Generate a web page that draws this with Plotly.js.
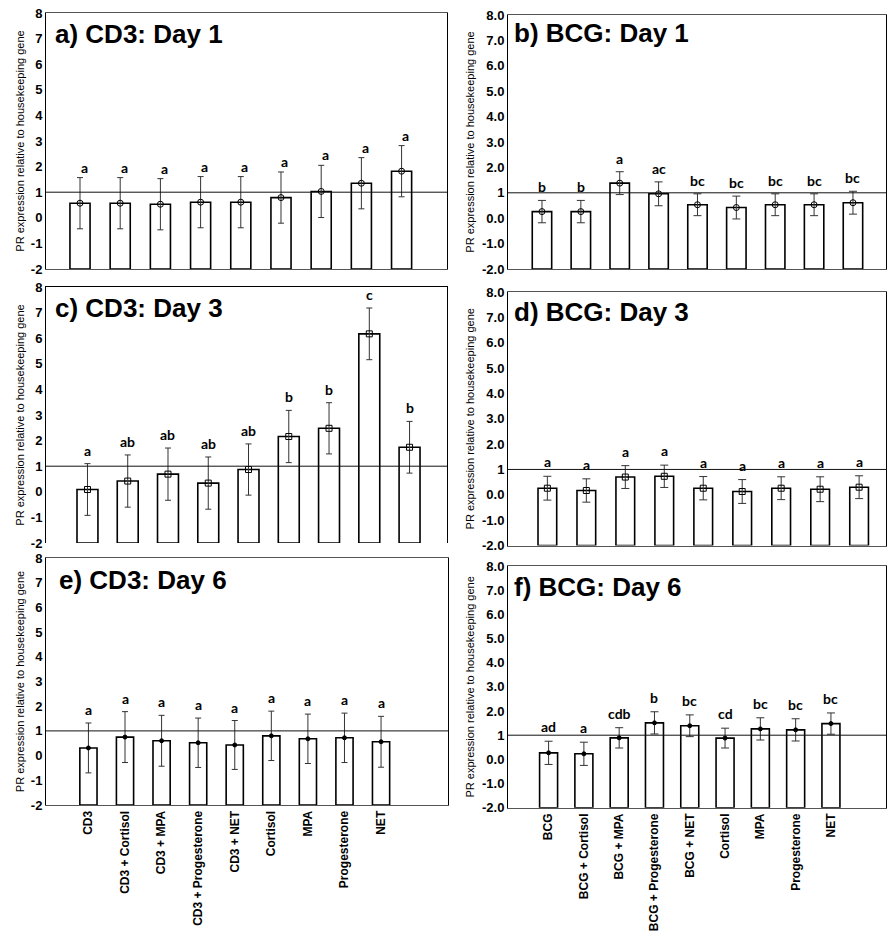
<!DOCTYPE html>
<html>
<head>
<meta charset="utf-8">
<script src="https://cdn.plot.ly/plotly-3.0.1.min.js"></script>
<style>html,body{margin:0;padding:0;background:#fff;}#chart{width:887px;height:941px;}</style>
</head>
<body>
<div id="chart"></div>
<script>
// ---- data ----
const catsCD3 = ["CD3", "CD3 + Cortisol", "CD3 + MPA", "CD3 + Progesterone", "CD3 + NET", "Cortisol", "MPA", "Progesterone", "NET"];
const catsBCG = ["BCG", "BCG + Cortisol", "BCG + MPA", "BCG + Progesterone", "BCG + NET", "Cortisol", "MPA", "Progesterone", "NET"];

const cd3Day1    = [0.57, 0.57, 0.53, 0.61, 0.61, 0.79, 1.03, 1.35, 1.82];
const cd3Day1Err = [1.0, 1.0, 1.0, 1.0, 1.0, 1.0, 1.02, 1.0, 1.0];
const cd3Day1Sig = ["a", "a", "a", "a", "a", "a", "a", "a", "a"];

const bcgDay1    = [0.26, 0.26, 1.38, 0.96, 0.53, 0.42, 0.53, 0.53, 0.61];
const bcgDay1Err = [0.44, 0.44, 0.45, 0.47, 0.43, 0.45, 0.43, 0.43, 0.45];
const bcgDay1Sig = ["b", "b", "a", "ac", "bc", "bc", "bc", "bc", "bc"];

const cd3Day3    = [0.09, 0.42, 0.69, 0.34, 0.87, 2.16, 2.48, 6.17, 1.74];
const cd3Day3Err = [1.01, 1.02, 1.02, 1.02, 1.0, 1.02, 1.0, 1.01, 1.01];
const cd3Day3Sig = ["a", "ab", "ab", "ab", "ab", "b", "b", "c", "b"];

const bcgDay3    = [0.26, 0.17, 0.70, 0.73, 0.26, 0.13, 0.26, 0.22, 0.30];
const bcgDay3Err = [0.47, 0.46, 0.45, 0.44, 0.46, 0.47, 0.45, 0.49, 0.45];
const bcgDay3Sig = ["a", "a", "a", "a", "a", "a", "a", "a", "a"];

const cd3Day6    = [0.31, 0.75, 0.60, 0.52, 0.43, 0.80, 0.68, 0.72, 0.56];
const cd3Day6Err = [1.01, 1.03, 1.03, 1.0, 0.99, 1.0, 1.0, 1.0, 1.03];
const cd3Day6Sig = ["a", "a", "a", "a", "a", "a", "a", "a", "a"];

const bcgDay6    = [0.27, 0.23, 0.89, 1.51, 1.39, 0.88, 1.26, 1.22, 1.48];
const bcgDay6Err = [0.48, 0.48, 0.42, 0.46, 0.45, 0.41, 0.46, 0.46, 0.44];
const bcgDay6Sig = ["ad", "a", "cdb", "b", "bc", "cd", "bc", "bc", "bc"];

const panelTitles = ["a) CD3: Day 1", "b) BCG: Day 1", "c) CD3: Day 3", "d) BCG: Day 3", "e) CD3: Day 6", "f) BCG: Day 6"];
const yTitle = "PR expression relative to housekeeping gene";
const yTickVals = [-2, -1, 0, 1, 2, 3, 4, 5, 6, 7, 8];
const yTickTextCD3 = ["-2", "-1", "0", "1", "2", "3", "4", "5", "6", "7", "8"];
const yTickTextBCG = ["-2.0", "-1.0", "0.0", "1", "2.0", "3.0", "4.0", "5.0", "6.0", "7.0", "8.0"];

// ---- styling / layout ----
const W = 887, H = 941;
const SANS = "Liberation Sans, Arial, sans-serif";
const LETTER = "Lato, Open Sans, sans-serif";

const panels = [
  {vals: cd3Day1, err: cd3Day1Err, sig: cd3Day1Sig, cats: catsCD3, ticks: yTickTextCD3, px: [46, 447], py: [13, 269], xr: [-0.846, 9.13], w: 0.5, sym: "circle-open", ms: 6, cap: 3, tx: 0.017, ty: 0.918, showX: false, bottomLine: true, sigShift: 0, sigX: 4, so: 3},
  {vals: bcgDay1, err: bcgDay1Err, sig: bcgDay1Sig, cats: catsBCG, ticks: yTickTextBCG, px: [508, 886], py: [15, 269], xr: [-0.874, 8.85], w: 0.5, sym: "circle-open", ms: 6, cap: 4, tx: 0.01, ty: 0.928, showX: false, bottomLine: true, sigShift: 3, sigX: 0, so: 5},
  {vals: cd3Day3, err: cd3Day3Err, sig: cd3Day3Sig, cats: catsCD3, ticks: yTickTextCD3, px: [46, 447], py: [287, 543], xr: [-1.03, 8.93], w: 0.52, sym: "square-open", ms: 6, cap: 3, tx: 0.018, ty: 0.917, showX: false, bottomLine: false, sigShift: 3, sigX: 0, so: 3},
  {vals: bcgDay3, err: bcgDay3Err, sig: bcgDay3Sig, cats: catsBCG, ticks: yTickTextBCG, px: [508, 886], py: [292, 545.5], xr: [-1.01, 8.69], w: 0.48, sym: "square-open", ms: 6, cap: 4, tx: 0.01, ty: 0.92, showX: false, bottomLine: true, sigShift: 4, sigX: 0, so: 5},
  {vals: cd3Day6, err: cd3Day6Err, sig: cd3Day6Sig, cats: catsCD3, ticks: yTickTextCD3, px: [46, 448], py: [558, 805], xr: [-1.16, 9.83], w: 0.47, sym: "circle", ms: 4, cap: 3, tx: 0.028, ty: 0.909, showX: true, bottomLine: true, sigShift: 3, sigX: 0, so: 3},
  {vals: bcgDay6, err: bcgDay6Err, sig: bcgDay6Sig, cats: catsBCG, ticks: yTickTextBCG, px: [508, 886], py: [566, 807.7], xr: [-1.15, 9.56], w: 0.51, sym: "circle", ms: 4, cap: 4, tx: 0.01, ty: 0.914, showX: true, bottomLine: true, sigShift: 4, sigX: 0, so: 5}
];

const data = [];
const layout = {
  width: W, height: H, autosize: false,
  margin: {l: 0, r: 0, t: 0, b: 0},
  paper_bgcolor: "#fff", plot_bgcolor: "#fff",
  showlegend: false,
  annotations: [], shapes: []
};

panels.forEach((p, k) => {
  const n = k + 1;
  const xa = n === 1 ? "x" : "x" + n;
  const ya = n === 1 ? "y" : "y" + n;
  const xKey = n === 1 ? "xaxis" : "xaxis" + n;
  const yKey = n === 1 ? "yaxis" : "yaxis" + n;

  // bars rise from the bottom of the axis (-2) up to the value
  data.push({
    type: "bar", x: p.cats, y: p.vals.map(v => v + 2), base: -2, xaxis: xa, yaxis: ya,
    width: p.w,
    marker: {color: "#fff", line: {color: "#000", width: 1.6}},
    hoverinfo: "skip"
  });

  data.push({
    type: "scatter", mode: "markers", x: p.cats, y: p.vals, xaxis: xa, yaxis: ya,
    marker: {symbol: p.sym, size: p.ms, color: "#000", line: {color: "#000", width: 1}},
    error_y: {type: "data", array: p.err, visible: true, color: "#333", thickness: 1, width: p.cap},
    hoverinfo: "skip"
  });

  layout[xKey] = {
    domain: [p.px[0] / W, p.px[1] / W],
    anchor: ya,
    type: "category",
    categoryorder: "array", categoryarray: p.cats,
    range: p.xr,
    showgrid: false, zeroline: false,
    showline: true, linecolor: p.bottomLine ? "#555" : "#000", linewidth: 1,
    mirror: p.bottomLine ? true : false,
    side: p.bottomLine ? "bottom" : "top",
    ticks: "",
    showticklabels: p.showX,
    tickangle: -90,
    tickfont: {family: SANS, size: 12, color: "#000", weight: "bold"}
  };
  layout[yKey] = {
    domain: [1 - p.py[1] / H, 1 - p.py[0] / H],
    anchor: xa,
    range: [-2, 8],
    tickmode: "array", tickvals: yTickVals, ticktext: p.ticks,
    showgrid: false, zeroline: false,
    showline: true, linecolor: "#000", linewidth: 1, mirror: true,
    ticks: "",
    tickfont: {family: SANS, size: 13, color: "#000", weight: "bold"},
    title: {text: yTitle, font: {family: SANS, size: 11, color: "#000"}, standoff: p.so}
  };

  // reference line at 1
  layout.shapes.push({type: "line", xref: xa + " domain", yref: ya, x0: 0, x1: 1, y0: 1, y1: 1,
    line: {color: "#111", width: 1}});

  // panel title
  layout.annotations.push({xref: xa + " domain", yref: ya + " domain", x: p.tx, y: p.ty,
    xanchor: "left", yanchor: "middle", showarrow: false, text: panelTitles[k],
    font: {family: SANS, size: 26, color: "#000", weight: "bold"}});

  // significance letters
  p.sig.forEach((s, i) => {
    layout.annotations.push({xref: xa, yref: ya, x: p.cats[i], y: p.vals[i] + p.err[i],
      xanchor: "center", yanchor: "bottom", yshift: p.sigShift, xshift: p.sigX, showarrow: false,
      text: s, font: {family: LETTER, size: 14, color: "#000", weight: "bold"}});
  });
});

Plotly.newPlot("chart", data, layout, {displayModeBar: false, staticPlot: true});
</script>
</body>
</html>
